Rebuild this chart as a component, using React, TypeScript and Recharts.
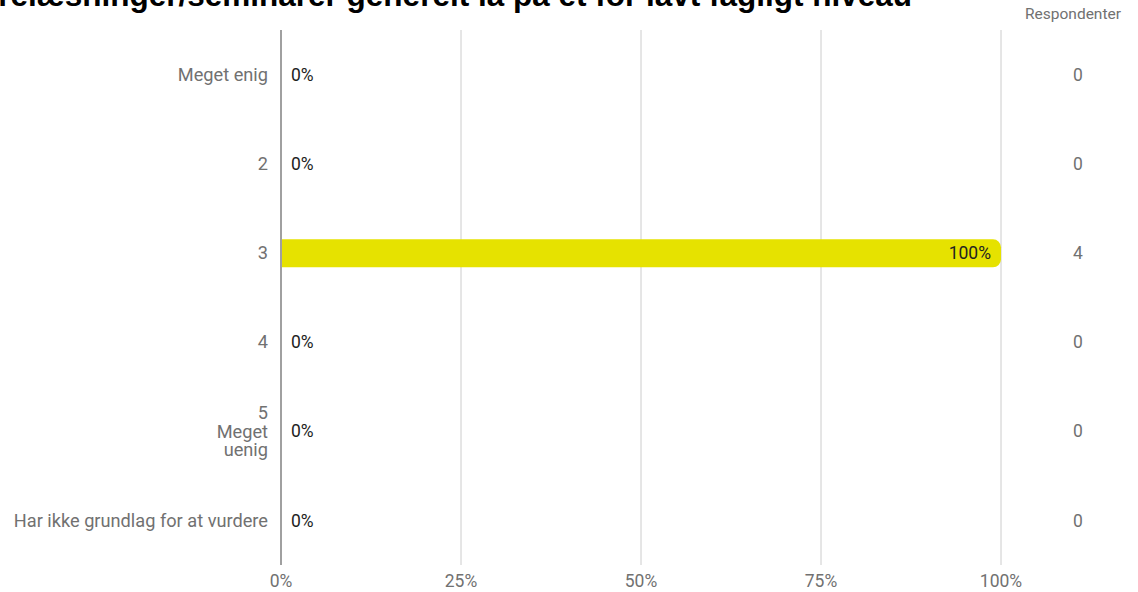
import React from "react";
import { BarChart, Bar, XAxis, YAxis, CartesianGrid, LabelList } from "recharts";

const categories = ["Meget enig", "2", "3", "4", "5\nMeget\nuenig", "Har ikke grundlag for at vurdere"];
const percentValues = [0, 0, 100, 0, 0, 0];
const respondentCounts = [0, 0, 4, 0, 0, 0];
const xTicks = [0, 25, 50, 75, 100];
const titleText = "Forelæsninger/seminarer generelt lå på et for lavt fagligt niveau";
const countHeader = "Respondenter";

const data = categories.map((name, i) => ({ name, value: percentValues[i], count: respondentCounts[i] }));

const FONT = "Roboto, 'Noto Sans', sans-serif";
const GRAY = "#717171";
const DARK = "#222";

const LeftTick = (props: any) => {
  const { x, y, payload, index } = props;
  const idx = categories.indexOf(payload.value);
  const v = percentValues[idx >= 0 ? idx : index];
  const lines = String(payload.value).split("\n");
  const lh = 18.5;
  const start = y - ((lines.length - 1) * lh) / 2;
  return (
    <g>
      <text x={x} y={start} textAnchor="end" fill={GRAY} fontSize={18.2} fontFamily={FONT}>
        {lines.map((l, i) => (
          <tspan key={i} x={x} y={start + i * lh} dy="0.35em">
            {l}
          </tspan>
        ))}
      </text>
      {v < 100 ? (
        <text x={291} y={y} dy="0.35em" textAnchor="start" fill={DARK} fontSize={17.5} fontFamily={FONT}>
          {v}%
        </text>
      ) : null}
    </g>
  );
};

const RightTick = (props: any) => {
  const { y, payload, index } = props;
  const idx = categories.indexOf(payload.value);
  const c = respondentCounts[idx >= 0 ? idx : index];
  return (
    <text x={1078} y={y} dy="0.35em" textAnchor="middle" fill={GRAY} fontSize={17.5} fontFamily={FONT}>
      {c}
    </text>
  );
};

const XTick = (props: any) => {
  const { x, payload } = props;
  return (
    <text x={x} y={581} dy="0.35em" textAnchor="middle" fill={GRAY} fontSize={17.5} fontFamily={FONT}>
      {payload.value}%
    </text>
  );
};

const BarLabel = (props: any) => {
  const { x, y, width, height, value } = props;
  if (value < 100) return null;
  const cy = y + height / 2;
  return (
    <text x={x + width - 10} y={cy} dy="0.35em" textAnchor="end" fill={DARK} fontSize={17.5} fontFamily={FONT}>
      {value}%
    </text>
  );
};

export default function App() {
  return (
    <div style={{ position: "absolute", left: 0, top: 0, width: 1138, height: 592, background: "#fff", overflow: "hidden" }}>
      <div
        style={{
          position: "absolute",
          right: 226,
          top: -20,
          fontFamily: "'Liberation Sans', Arial, sans-serif",
          fontWeight: "bold",
          fontSize: 31.5,
          lineHeight: "31.5px",
          whiteSpace: "nowrap",
          color: "#000",
        }}
      >
        {titleText}
      </div>
      <div
        style={{
          position: "absolute",
          left: 1073,
          top: 14,
          transform: "translate(-50%, -50%)",
          fontFamily: FONT,
          fontSize: 15.5,
          color: GRAY,
          whiteSpace: "nowrap",
        }}
      >
        {countHeader}
      </div>
      <BarChart
        width={1138}
        height={592}
        data={data}
        layout="vertical"
        margin={{ top: 30, right: 0, left: 0, bottom: 0 }}
      >
        <CartesianGrid horizontal={false} vertical={true} stroke="#cccccc" />
        <XAxis
          type="number"
          domain={[0, 100]}
          ticks={xTicks}
          axisLine={false}
          tickLine={false}
          height={27}
          tick={<XTick />}
          interval={0}
        />
        <YAxis
          yAxisId="left"
          type="category"
          dataKey="name"
          width={281}
          axisLine={{ stroke: "#a0a0a0", strokeWidth: 2 }}
          tickLine={false}
          tick={<LeftTick />}
          tickMargin={7}
          interval={0}
        />
        <YAxis
          yAxisId="right"
          orientation="right"
          type="category"
          dataKey="name"
          width={137}
          axisLine={false}
          tickLine={false}
          tick={<RightTick />}
          interval={0}
        />
        <Bar yAxisId="left" dataKey="value" fill="#e6e200" barSize={28} radius={[0, 8, 8, 0]} isAnimationActive={false}>
          <LabelList dataKey="value" content={<BarLabel />} />
        </Bar>
      </BarChart>
    </div>
  );
}
